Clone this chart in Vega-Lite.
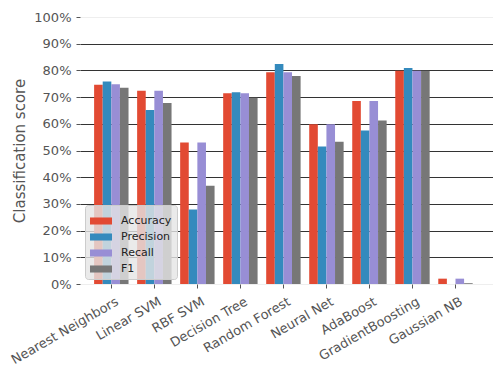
{
  "$schema": "https://vega.github.io/schema/vega-lite/v6.json",
  "width": 413,
  "height": 267,
  "autosize": "none",
  "padding": {"left": 80, "top": 17, "right": 0, "bottom": 88},
  "background": "white",
  "config": {
    "view": {"stroke": null},
    "font": "DejaVu Sans",
    "axis": {"labelFont": "DejaVu Sans", "titleFont": "DejaVu Sans"},
    "legend": {"labelFont": "DejaVu Sans"}
  },
  "data": {
    "values": [
      {"classifier": "Nearest Neighbors", "metric": "Accuracy", "score": 0.746},
      {"classifier": "Nearest Neighbors", "metric": "Precision", "score": 0.758},
      {"classifier": "Nearest Neighbors", "metric": "Recall", "score": 0.748},
      {"classifier": "Nearest Neighbors", "metric": "F1", "score": 0.735},
      {"classifier": "Linear SVM", "metric": "Accuracy", "score": 0.724},
      {"classifier": "Linear SVM", "metric": "Precision", "score": 0.652},
      {"classifier": "Linear SVM", "metric": "Recall", "score": 0.724},
      {"classifier": "Linear SVM", "metric": "F1", "score": 0.678},
      {"classifier": "RBF SVM", "metric": "Accuracy", "score": 0.530},
      {"classifier": "RBF SVM", "metric": "Precision", "score": 0.279},
      {"classifier": "RBF SVM", "metric": "Recall", "score": 0.530},
      {"classifier": "RBF SVM", "metric": "F1", "score": 0.368},
      {"classifier": "Decision Tree", "metric": "Accuracy", "score": 0.714},
      {"classifier": "Decision Tree", "metric": "Precision", "score": 0.718},
      {"classifier": "Decision Tree", "metric": "Recall", "score": 0.714},
      {"classifier": "Decision Tree", "metric": "F1", "score": 0.698},
      {"classifier": "Random Forest", "metric": "Accuracy", "score": 0.793},
      {"classifier": "Random Forest", "metric": "Precision", "score": 0.824},
      {"classifier": "Random Forest", "metric": "Recall", "score": 0.793},
      {"classifier": "Random Forest", "metric": "F1", "score": 0.779},
      {"classifier": "Neural Net", "metric": "Accuracy", "score": 0.598},
      {"classifier": "Neural Net", "metric": "Precision", "score": 0.515},
      {"classifier": "Neural Net", "metric": "Recall", "score": 0.598},
      {"classifier": "Neural Net", "metric": "F1", "score": 0.533},
      {"classifier": "AdaBoost", "metric": "Accuracy", "score": 0.685},
      {"classifier": "AdaBoost", "metric": "Precision", "score": 0.575},
      {"classifier": "AdaBoost", "metric": "Recall", "score": 0.685},
      {"classifier": "AdaBoost", "metric": "F1", "score": 0.612},
      {"classifier": "GradientBoosting", "metric": "Accuracy", "score": 0.799},
      {"classifier": "GradientBoosting", "metric": "Precision", "score": 0.809},
      {"classifier": "GradientBoosting", "metric": "Recall", "score": 0.799},
      {"classifier": "GradientBoosting", "metric": "F1", "score": 0.799},
      {"classifier": "Gaussian NB", "metric": "Accuracy", "score": 0.020},
      {"classifier": "Gaussian NB", "metric": "Precision", "score": 0.0},
      {"classifier": "Gaussian NB", "metric": "Recall", "score": 0.020},
      {"classifier": "Gaussian NB", "metric": "F1", "score": 0.003}
    ]
  },
  "mark": {"type": "bar"},
  "encoding": {
    "x": {
      "field": "classifier",
      "type": "nominal",
      "sort": null,
      "scale": {"paddingInner": 0.2, "paddingOuter": 0.4, "align": 0.41},
      "axis": {
        "title": null,
        "labelAngle": -30,
        "labelAlign": "right",
        "labelBaseline": "top",
        "labelFontSize": 13,
        "labelColor": "#555555",
        "tickColor": "#555555",
        "tickSize": 4,
        "labelPadding": 7,
        "labelOffset": 3,
        "domain": false,
        "grid": false
      }
    },
    "xOffset": {
      "field": "metric",
      "type": "nominal",
      "sort": ["Accuracy", "Precision", "Recall", "F1"],
      "scale": {"paddingInner": 0, "paddingOuter": 0}
    },
    "y": {
      "field": "score",
      "type": "quantitative",
      "scale": {"domain": [0, 1], "nice": false},
      "axis": {
        "title": "Classification score",
        "titleFontSize": 15,
        "titleFontWeight": "normal",
        "titleColor": "#555555",
        "titlePadding": 6,
        "format": ".0%",
        "values": [0, 0.1, 0.2, 0.3, 0.4, 0.5, 0.6, 0.7, 0.8, 0.9, 1.0],
        "labelFontSize": 13,
        "labelColor": "#555555",
        "tickColor": "#555555",
        "tickSize": 4,
        "labelPadding": 5,
        "domain": false,
        "grid": true,
        "gridColor": {"condition": {"test": "datum.value >= 1 || datum.value <= 0", "value": "#eeeeee"}, "value": "#333333"},
        "gridWidth": 1
      }
    },
    "color": {
      "field": "metric",
      "type": "nominal",
      "sort": ["Accuracy", "Precision", "Recall", "F1"],
      "scale": {
        "domain": ["Accuracy", "Precision", "Recall", "F1"],
        "range": ["#E24A33", "#348ABD", "#988ED5", "#777777"]
      },
      "legend": {
        "title": null,
        "orient": "bottom-left",
        "offset": 5,
        "padding": 5,
        "rowPadding": -5,
        "labelFontSize": 11,
        "labelColor": "#222222",
        "labelOffset": 9,
        "symbolType": "M-1,-0.32L1,-0.32L1,0.32L-1,0.32Z",
        "symbolSize": 484,
        "symbolOpacity": 1,
        "symbolStrokeWidth": 0,
        "fillColor": "rgba(229,229,229,0.8)",
        "strokeColor": "#cccccc",
        "cornerRadius": 3
      }
    }
  }
}
